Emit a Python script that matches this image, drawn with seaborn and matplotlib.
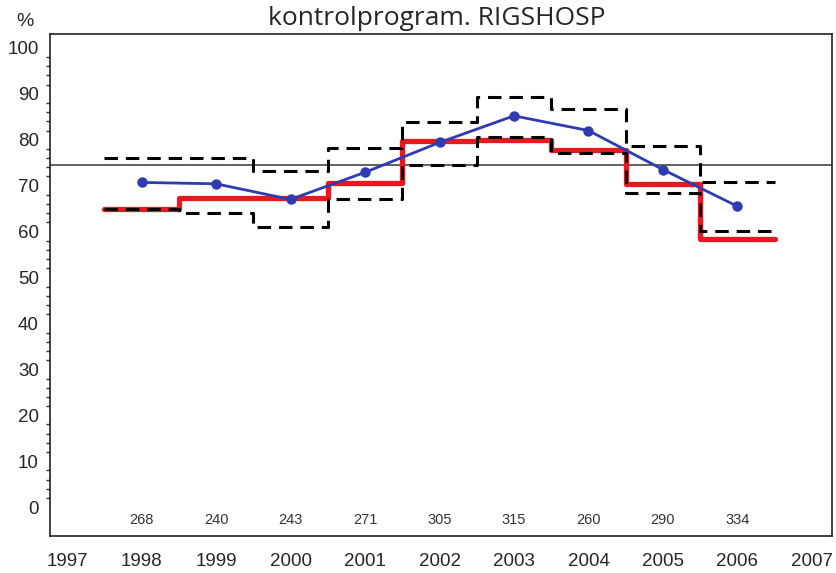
import numpy as np
import pandas as pd
import seaborn as sns
import matplotlib.pyplot as plt
from matplotlib.ticker import FixedLocator

# data
years = [1998, 1999, 2000, 2001, 2002, 2003, 2004, 2005, 2006]
observed = [70.7, 70.4, 67.0, 72.9, 79.4, 85.2, 82.0, 73.5, 65.5]
expected = [65.0, 67.3, 67.3, 70.6, 79.8, 80.0, 77.8, 70.4, 58.3]
upper = [76.1, 76.1, 73.1, 78.3, 83.8, 89.3, 86.7, 78.6, 70.9]
lower = [64.9, 64.1, 60.9, 67.2, 74.6, 80.7, 77.1, 68.3, 60.2]
counts = [268, 240, 243, 271, 305, 315, 260, 290, 334]
reference = 74.4
xticks = list(range(1997, 2008))
title = "kontrolprogram. RIGSHOSP"

# step edges: each value covers its year +/- 0.5
edges = [y - 0.5 for y in years] + [years[-1] + 0.5]


def stepped(values):
    return pd.DataFrame({"x": edges, "y": list(values) + [values[-1]]})


sns.set_style("white")
plt.rcParams["font.family"] = ["Liberation Sans", "DejaVu Sans"]

fig = plt.figure(figsize=(8.36, 5.73), dpi=100)
ax = fig.add_axes([0.0598, 0.0645, 0.9354, 0.876])

ax.axhline(reference, color="#555555", lw=1.3, zorder=1)

for band in (upper, lower):
    sns.lineplot(data=stepped(band), x="x", y="y", ax=ax, color="black",
                 lw=2.2, linestyle=(0, (4.4, 2.6)),
                 drawstyle="steps-post", zorder=3)

sns.lineplot(data=stepped(expected), x="x", y="y", ax=ax, color="#e8191e",
             lw=3.8, drawstyle="steps-post", zorder=2)

obs = pd.DataFrame({"year": years, "value": observed})
sns.lineplot(data=obs, x="year", y="value", ax=ax, color="#2f3bb0", lw=2,
             marker="o", markersize=7.5, markeredgewidth=0, zorder=4)

for yr, n in zip(years, counts):
    ax.text(yr, -2.8, str(n), ha="center", va="center", fontsize=10.5,
            color="#333333")

ax.set_xlim(1996.77, 2007.27)
ax.set_ylim(-6.3, 103)
ax.set_xticks(xticks)
ax.set_yticks(range(0, 101, 10))
ax.yaxis.set_minor_locator(FixedLocator([v for v in range(0, 101, 2) if v % 10]))
ax.tick_params(axis="both", which="major", direction="out", length=6,
               width=1, labelsize=13.5, color="#333333")
ax.tick_params(axis="y", which="minor", direction="out", length=3,
               width=1, color="#333333", left=True)
ax.tick_params(axis="x", pad=6)
ax.tick_params(axis="y", pad=2)
ax.set_xlabel("")
ax.set_ylabel("")
for sp in ax.spines.values():
    sp.set_color("#222222")
    sp.set_linewidth(1.2)

fig.text(0.03, 0.963, "%", fontsize=14, ha="center", va="center")
fig.text(0.523, 0.968, title, fontsize=19, ha="center", va="center",
         family=["Open Sans", "DejaVu Sans"])

fig.savefig("out.png", dpi=100)
